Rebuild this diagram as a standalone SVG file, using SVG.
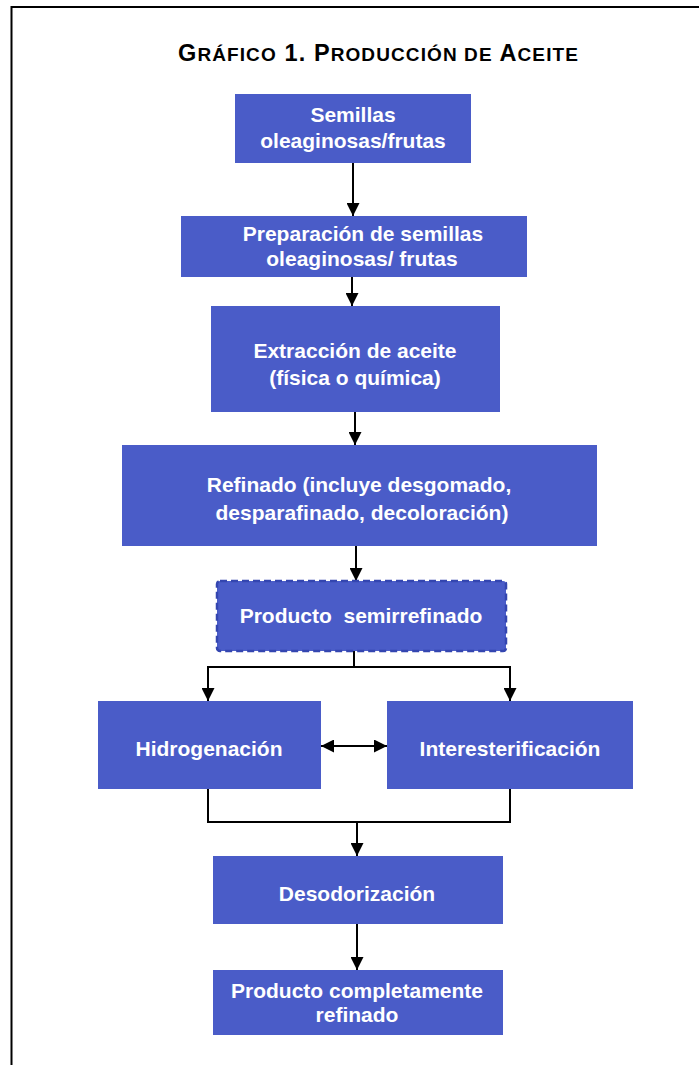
<svg xmlns="http://www.w3.org/2000/svg" width="699" height="1065" viewBox="0 0 699 1065">
<style>
.box{fill:#4a5cc8}
.lbl{font-family:"Liberation Sans",Arial,sans-serif;font-weight:bold;font-size:21px;fill:#ffffff;text-anchor:middle}
.ttl{font-family:"Liberation Sans",Arial,sans-serif;font-weight:bold;font-size:23.5px;fill:#000000}
.sc{font-size:19px}
.con{stroke:#000;stroke-width:2;fill:none}
</style>
<defs>
<marker id="ah" viewBox="0 0 13 13" refX="13" refY="6.5" markerWidth="13" markerHeight="13" orient="auto-start-reverse" markerUnits="userSpaceOnUse">
<path d="M0,0 L13,6.5 L0,13 z" fill="#000"/>
</marker>
</defs>
<rect x="0" y="0" width="699" height="1065" fill="#ffffff"/>
<rect id="frame" x="11.5" y="7" width="700" height="1070" fill="none" stroke="#000" stroke-width="2"/>
<g id="title">
<text class="ttl" x="178" y="61" letter-spacing="1.1">G<tspan class="sc">RÁFICO</tspan> 1. P<tspan class="sc">RODUCCIÓN DE</tspan> A<tspan class="sc">CEITE</tspan></text>
</g>
<g id="connectors">
<line class="con" x1="353" y1="163" x2="353" y2="216" marker-end="url(#ah)"/>
<line class="con" x1="352" y1="277" x2="352" y2="306" marker-end="url(#ah)"/>
<line class="con" x1="355" y1="412" x2="355" y2="445" marker-end="url(#ah)"/>
<line class="con" x1="356" y1="546" x2="356" y2="581" marker-end="url(#ah)"/>
<line class="con" x1="354" y1="651" x2="354" y2="667"/>
<line class="con" x1="207" y1="667" x2="511" y2="667"/>
<line class="con" x1="208" y1="667" x2="208" y2="701" marker-end="url(#ah)"/>
<line class="con" x1="510" y1="667" x2="510" y2="701" marker-end="url(#ah)"/>
<line class="con" x1="321" y1="746" x2="387" y2="746" marker-start="url(#ah)" marker-end="url(#ah)"/>
<polyline class="con" points="208,789 208,822 510,822 510,789"/>
<line class="con" x1="357" y1="822" x2="357" y2="856" marker-end="url(#ah)"/>
<line class="con" x1="357" y1="924" x2="357" y2="970" marker-end="url(#ah)"/>
</g>
<g id="n1">
<rect class="box" x="235" y="94" width="236" height="69"/>
<text class="lbl" x="353" y="122">Semillas</text>
<text class="lbl" x="353" y="148">oleaginosas/frutas</text>
</g>
<g id="n2">
<rect class="box" x="181" y="216" width="346" height="61"/>
<text class="lbl" x="363" y="241">Preparación de semillas</text>
<text class="lbl" x="362" y="266">oleaginosas/ frutas</text>
</g>
<g id="n3">
<rect class="box" x="211" y="306" width="289" height="106"/>
<text class="lbl" x="355" y="358">Extracción de aceite</text>
<text class="lbl" x="355" y="385">(física o química)</text>
</g>
<g id="n4">
<rect class="box" x="122" y="445" width="475" height="101"/>
<text class="lbl" x="359" y="492">Refinado (incluye desgomado,</text>
<text class="lbl" x="362" y="520">desparafinado, decoloración)</text>
</g>
<g id="n5">
<rect class="box" x="217" y="581" width="289" height="70" rx="3" stroke="#3446b0" stroke-width="2.5" stroke-dasharray="7 4"/>
<text class="lbl" x="361" y="623" xml:space="preserve">Producto  semirrefinado</text>
</g>
<g id="n6">
<rect class="box" x="98" y="701" width="223" height="88"/>
<text class="lbl" x="209" y="756">Hidrogenación</text>
</g>
<g id="n7">
<rect class="box" x="387" y="701" width="246" height="88"/>
<text class="lbl" x="510" y="756">Interesterificación</text>
</g>
<g id="n8">
<rect class="box" x="213" y="856" width="290" height="68"/>
<text class="lbl" x="357" y="901">Desodorización</text>
</g>
<g id="n9">
<rect class="box" x="213" y="970" width="290" height="65"/>
<text class="lbl" x="357" y="998">Producto completamente</text>
<text class="lbl" x="357" y="1022">refinado</text>
</g>
</svg>
